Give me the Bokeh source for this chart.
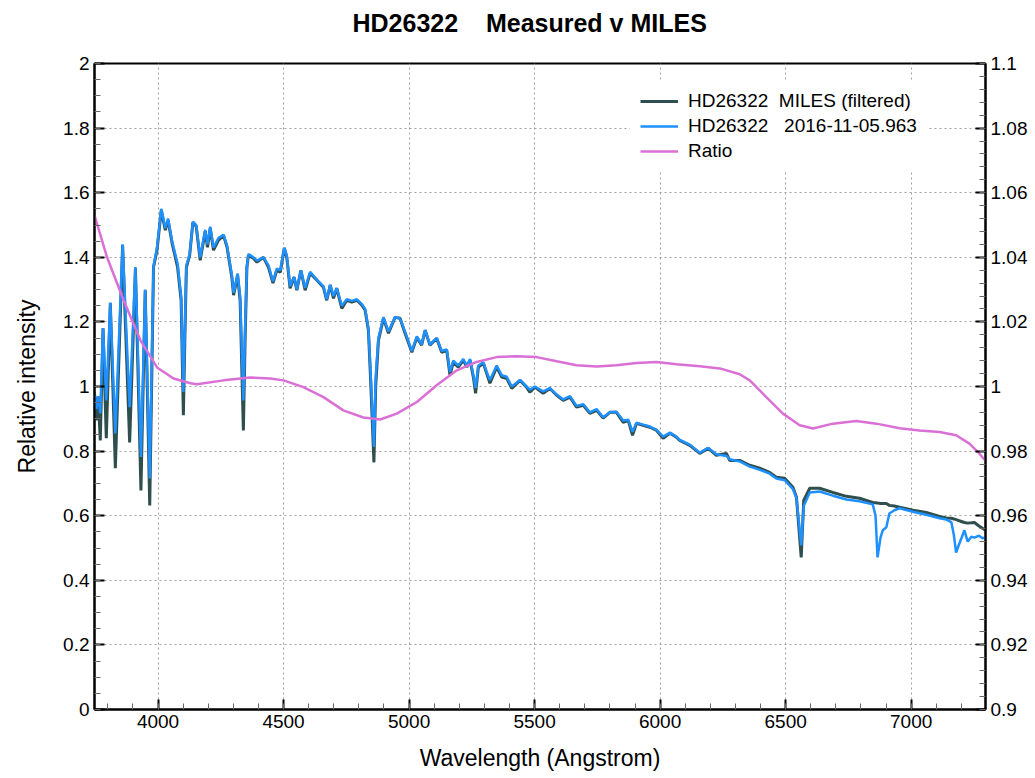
from bokeh.plotting import figure
from bokeh.models import (Range1d, LinearAxis, FixedTicker, CustomJSTickFormatter,
                          Legend, LegendItem, ColumnDataSource, Title)
from bokeh.embed import file_html
from bokeh.resources import INLINE

# ---------------- data ----------------
wavelength = [3747, 3754, 3762, 3770, 3781, 3794, 3810, 3830, 3859, 3887, 3910, 3932, 3949, 3967,
              3982, 3996, 4013, 4029, 4040, 4056, 4078, 4092, 4101, 4107, 4113, 4126, 4139, 4152,
              4168, 4188, 4197, 4208, 4221, 4241, 4261, 4275, 4294, 4301, 4317, 4327, 4340, 4347,
              4354, 4360, 4380, 4394, 4420, 4440, 4458, 4473, 4487, 4503, 4513, 4526, 4542, 4553,
              4569, 4586, 4606, 4633, 4659, 4672, 4686, 4699, 4712, 4732, 4752, 4772, 4792, 4812,
              4825, 4838, 4847, 4860, 4867, 4878, 4898, 4918, 4944, 4964, 4984, 5011, 5031, 5050,
              5064, 5083, 5110, 5130, 5150, 5163, 5176, 5196, 5216, 5230, 5243, 5256, 5265, 5276,
              5296, 5309, 5322, 5349, 5369, 5389, 5409, 5442, 5468, 5481, 5501, 5534, 5561, 5588,
              5614, 5641, 5667, 5694, 5720, 5747, 5773, 5800, 5826, 5853, 5873, 5890, 5906, 5932,
              5959, 5986, 6012, 6039, 6065, 6078, 6118, 6158, 6191, 6224, 6264, 6277, 6317, 6357,
              6397, 6436, 6463, 6496, 6529, 6543, 6562, 6572, 6596, 6635, 6688, 6742, 6794, 6847,
              6858, 6866, 6878, 6887, 6901, 6913, 6933, 6954, 7007, 7060, 7113, 7140, 7160, 7170,
              7179, 7190, 7200, 7212, 7225, 7240, 7252, 7270, 7284, 7296]

miles_flux = [0.982, 0.895, 0.970, 0.833, 1.180, 0.840, 1.258, 0.747, 1.437, 0.827, 1.366, 0.678,
              1.298, 0.632, 1.369, 1.422, 1.546, 1.484, 1.515, 1.444, 1.369, 1.267, 0.911, 1.150,
              1.369, 1.406, 1.509, 1.496, 1.391, 1.481, 1.431, 1.490, 1.422, 1.453, 1.468, 1.431,
              1.338, 1.283, 1.344, 1.267, 0.864, 1.150, 1.369, 1.406, 1.397, 1.385, 1.400, 1.369,
              1.320, 1.360, 1.354, 1.428, 1.400, 1.304, 1.338, 1.298, 1.360, 1.298, 1.351, 1.329,
              1.307, 1.267, 1.314, 1.273, 1.304, 1.242, 1.267, 1.261, 1.267, 1.252, 1.236, 1.174,
              1.019, 0.765, 1.000, 1.143, 1.211, 1.165, 1.214, 1.211, 1.165, 1.106, 1.152, 1.128,
              1.174, 1.128, 1.149, 1.106, 1.112, 1.035, 1.075, 1.060, 1.081, 1.060, 1.081, 1.029,
              0.979, 1.060, 1.072, 1.041, 1.010, 1.060, 1.029, 1.025, 0.994, 1.019, 0.998, 0.982,
              0.998, 0.979, 0.994, 0.973, 0.957, 0.967, 0.936, 0.942, 0.917, 0.926, 0.902, 0.920,
              0.920, 0.889, 0.895, 0.849, 0.886, 0.880, 0.874, 0.864, 0.840, 0.855, 0.843, 0.833,
              0.818, 0.793, 0.809, 0.787, 0.793, 0.771, 0.771, 0.756, 0.747, 0.734, 0.719, 0.716,
              0.688, 0.657, 0.471, 0.647, 0.685, 0.685, 0.672, 0.660, 0.654, 0.641, 0.640, 0.639,
              0.638, 0.638, 0.638, 0.632, 0.630, 0.626, 0.617, 0.610, 0.598, 0.593, 0.592, 0.590,
              0.588, 0.585, 0.582, 0.579, 0.577, 0.578, 0.579, 0.568, 0.561, 0.555]

measured_flux = [0.975, 0.930, 0.970, 0.917, 1.180, 0.957, 1.260, 0.855, 1.440, 0.936, 1.370, 0.782,
                 1.300, 0.715, 1.370, 1.430, 1.550, 1.490, 1.520, 1.450, 1.380, 1.280, 0.983, 1.180,
                 1.375, 1.410, 1.510, 1.500, 1.400, 1.485, 1.440, 1.495, 1.430, 1.460, 1.470, 1.435,
                 1.345, 1.290, 1.350, 1.280, 0.957, 1.180, 1.370, 1.410, 1.400, 1.390, 1.400, 1.375,
                 1.325, 1.365, 1.360, 1.430, 1.405, 1.310, 1.340, 1.300, 1.360, 1.305, 1.355, 1.330,
                 1.310, 1.270, 1.315, 1.280, 1.305, 1.250, 1.270, 1.265, 1.270, 1.255, 1.240, 1.180,
                 1.040, 0.813, 1.030, 1.150, 1.215, 1.170, 1.215, 1.210, 1.170, 1.110, 1.155, 1.130,
                 1.175, 1.130, 1.150, 1.110, 1.115, 1.045, 1.080, 1.065, 1.085, 1.065, 1.085, 1.035,
                 0.995, 1.065, 1.075, 1.045, 1.020, 1.065, 1.035, 1.030, 1.000, 1.020, 1.000, 0.990,
                 1.000, 0.985, 0.995, 0.975, 0.960, 0.970, 0.940, 0.945, 0.920, 0.930, 0.905, 0.920,
                 0.922, 0.895, 0.897, 0.860, 0.888, 0.882, 0.876, 0.866, 0.845, 0.857, 0.845, 0.835,
                 0.820, 0.795, 0.810, 0.790, 0.785, 0.775, 0.768, 0.752, 0.742, 0.730, 0.715, 0.710,
                 0.682, 0.655, 0.508, 0.630, 0.672, 0.675, 0.662, 0.650, 0.645, 0.635, 0.600, 0.471,
                 0.533, 0.555, 0.564, 0.607, 0.617, 0.623, 0.612, 0.603, 0.592, 0.588, 0.580, 0.540,
                 0.486, 0.510, 0.530, 0.555, 0.520, 0.535, 0.532, 0.538, 0.530, 0.533]

ratio_wavelength = [3747, 3797, 3863, 3930, 3996, 4062, 4129, 4155, 4261, 4367, 4447, 4500, 4579,
                    4659, 4738, 4818, 4885, 4951, 5031, 5110, 5190, 5269, 5349, 5428, 5508, 5588,
                    5667, 5747, 5826, 5906, 5986, 6065, 6158, 6238, 6317, 6357, 6423, 6489, 6556,
                    6609, 6688, 6781, 6861, 6954, 7033, 7113, 7179, 7232, 7272, 7296]
ratio_values = [1.0530, 1.0400, 1.0267, 1.0143, 1.0059, 1.0025, 1.0010, 1.0007, 1.0019, 1.0028,
                1.0025, 1.0019, 0.9998, 0.9967, 0.9926, 0.9904, 0.9898, 0.9916, 0.9952, 1.0004,
                1.0050, 1.0076, 1.0091, 1.0094, 1.0091, 1.0078, 1.0066, 1.0062, 1.0066, 1.0073,
                1.0076, 1.0069, 1.0063, 1.0056, 1.0038, 1.0019, 0.9967, 0.9916, 0.9880, 0.9870,
                0.9885, 0.9893, 0.9885, 0.9871, 0.9864, 0.9859, 0.9849, 0.9823, 0.9792, 0.9770]

x_major_ticks = [4000, 4500, 5000, 5500, 6000, 6500, 7000]
y_left_ticks = [0, 0.2, 0.4, 0.6, 0.8, 1.0, 1.2, 1.4, 1.6, 1.8, 2.0]
y_right_ticks = [0.9, 0.92, 0.94, 0.96, 0.98, 1.0, 1.02, 1.04, 1.06, 1.08, 1.1]

series_labels = ["HD26322\u00a0\u00a0MILES (filtered)", "HD26322\u00a0\u00a0\u00a02016-11-05.963", "Ratio"]
title_text = "HD26322\u00a0\u00a0\u00a0\u00a0Measured v MILES"

# ---------------- figure ----------------
REG = "Liberation Sans, Arial, sans-serif"

p = figure(width=1030, height=778, x_range=Range1d(3747, 7296), y_range=Range1d(0, 2),
           output_backend="svg", toolbar_location=None,
           min_border_left=94, min_border_right=44, min_border_top=63, min_border_bottom=69)
p.extra_y_ranges = {"ratio": Range1d(0.9, 1.1)}
p.background_fill_color = "white"
p.border_fill_color = "white"
p.outline_line_color = "black"
p.outline_line_width = 2

# visible title (outermost panel)
p.title.text = title_text
p.title.align = "left"
p.title.offset = 258
p.title.standoff = 0
p.title.text_font = REG
p.title.text_font_size = "25px"
p.title.text_font_style = "bold"
p.title.text_color = "black"

# a blank spacer panel between the title and the frame
p.add_layout(Title(text="\u00a0", text_font_size="10px", standoff=14), "above")

fmt = CustomJSTickFormatter(code="return String(parseFloat(tick.toFixed(4)));")

xt = FixedTicker(ticks=x_major_ticks, minor_ticks=[3800 + 100 * i for i in range(35)])
ytl = FixedTicker(ticks=y_left_ticks, minor_ticks=[0.05 * i for i in range(41)])
ytr = FixedTicker(ticks=y_right_ticks, minor_ticks=[0.9 + 0.004 * i for i in range(51)])

def style_axis(ax):
    ax.axis_line_color = "black"
    ax.axis_line_width = 2
    ax.major_tick_in = 10
    ax.major_tick_out = 0
    ax.minor_tick_in = 6
    ax.minor_tick_out = 0
    ax.major_tick_line_color = "black"
    ax.major_tick_line_width = 2
    ax.minor_tick_line_color = "#666666"
    ax.minor_tick_line_width = 1
    ax.major_label_text_font = REG
    ax.major_label_text_font_size = "19px"
    ax.major_label_text_color = "black"
    ax.major_label_standoff = 5
    ax.axis_label_text_font = REG
    ax.axis_label_text_font_size = "23px"
    ax.axis_label_text_font_style = "normal"
    ax.axis_label_text_color = "black"

xa = p.xaxis[0]
xa.ticker = xt
xa.formatter = fmt
xa.axis_label = "Wavelength (Angstrom)"
style_axis(xa)
xa.axis_label_standoff = 14

ya = p.yaxis[0]
ya.ticker = ytl
ya.formatter = fmt
ya.axis_label = "Relative intensity"
style_axis(ya)
ya.axis_label_standoff = 20

ra = LinearAxis(y_range_name="ratio", ticker=ytr, formatter=fmt)
style_axis(ra)
p.add_layout(ra, "right")

for g, t in ((p.xgrid[0], xt), (p.ygrid[0], ytl)):
    g.ticker = t
    g.grid_line_color = "#a0a0a0"
    g.grid_line_dash = "2 3"
    g.grid_line_width = 1

src = ColumnDataSource(dict(wl=wavelength, miles=miles_flux, meas=measured_flux))
rsrc = ColumnDataSource(dict(wl=ratio_wavelength, r=ratio_values))

r1 = p.line("wl", "miles", source=src, line_color="#2f4f4f", line_width=3)
r2 = p.line("wl", "meas", source=src, line_color="#1e90ff", line_width=2.5)
r3 = p.line("wl", "r", source=rsrc, y_range_name="ratio", line_color="#da70d6", line_width=2.5)

legend = Legend(items=[LegendItem(label=series_labels[0], renderers=[r1]),
                       LegendItem(label=series_labels[1], renderers=[r2]),
                       LegendItem(label=series_labels[2], renderers=[r3])],
                location=(536, 537))
legend.border_line_alpha = 0
legend.background_fill_color = "white"
legend.background_fill_alpha = 1
legend.padding = 10
legend.spacing = 3
legend.margin = 0
legend.glyph_width = 38
legend.glyph_height = 22
legend.label_height = 22
legend.label_standoff = 10
legend.label_text_font = REG
legend.label_text_font_size = "19px"
legend.label_text_color = "black"
p.add_layout(legend)

open("out.html", "w").write(file_html(p, INLINE))
